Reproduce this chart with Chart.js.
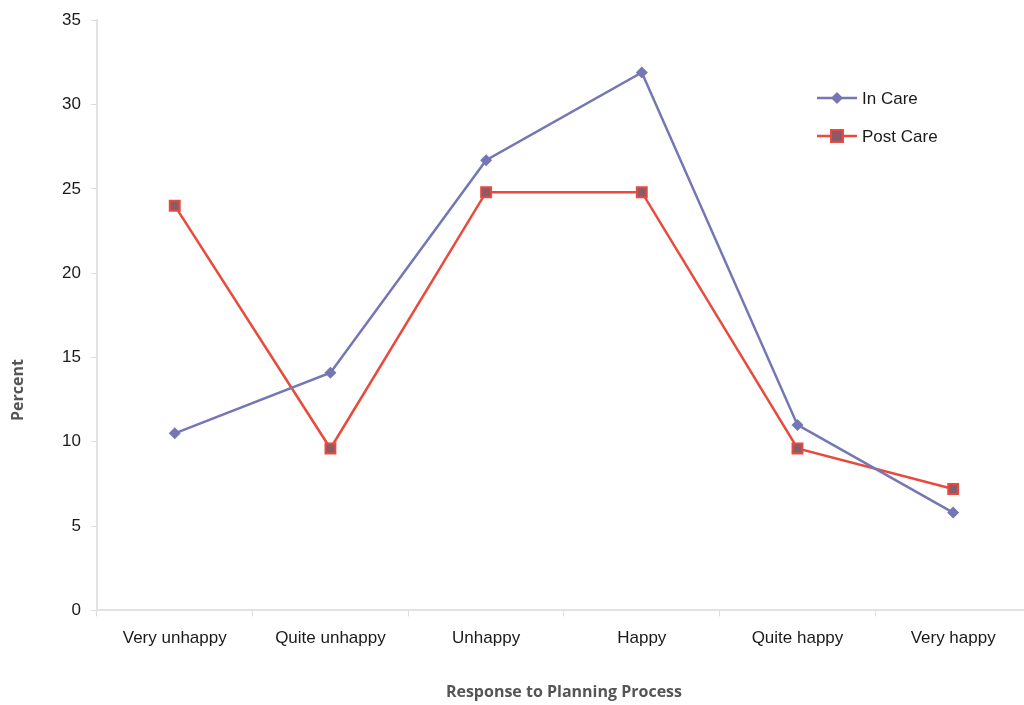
<!DOCTYPE html>
<html>
<head>
<meta charset="utf-8">
<script src="https://cdn.jsdelivr.net/npm/chart.js@4.4.0/dist/chart.umd.min.js"></script>
<style>
  html, body { margin: 0; padding: 0; background: #fff; overflow: hidden; }
  #wrap { width: 1040px; height: 705px; }
</style>
</head>
<body>
<div id="wrap"><canvas id="myChart" width="1040" height="705"></canvas></div>
<script>
const categories = ['Very unhappy', 'Quite unhappy', 'Unhappy', 'Happy', 'Quite happy', 'Very happy']
const inCare = [10.5, 14.1, 26.7, 31.9, 11.0, 5.8]
const postCare = [24.0, 9.6, 24.8, 24.8, 9.6, 7.2]
const yTicks = [0, 5, 10, 15, 20, 25, 30, 35]

const blue = '#7477b3'
const red = '#ea4a3c'
const labelFont = '"Liberation Sans", Arial, sans-serif'

// legend inside the plot (top right) and the y title, which sits lower than centre
const extras = {
  id: 'extras',
  afterDraw(chart) {
    const ctx = chart.ctx
    const items = [
      { label: 'In Care', color: blue, y: 98, shape: 'diamond' },
      { label: 'Post Care', color: red, y: 136, shape: 'square' }
    ]
    ctx.save()
    items.forEach(function (it) {
      ctx.strokeStyle = it.color
      ctx.lineWidth = 2.5
      ctx.beginPath()
      ctx.moveTo(817, it.y)
      ctx.lineTo(857, it.y)
      ctx.stroke()
      if (it.shape === 'diamond') {
        ctx.fillStyle = blue
        ctx.beginPath()
        ctx.moveTo(837, it.y - 6)
        ctx.lineTo(843, it.y)
        ctx.lineTo(837, it.y + 6)
        ctx.lineTo(831, it.y)
        ctx.closePath()
        ctx.fill()
      } else {
        ctx.fillStyle = '#8c5b69'
        ctx.lineWidth = 2
        ctx.fillRect(831, it.y - 6, 12, 12)
        ctx.strokeRect(831, it.y - 6, 12, 12)
      }
      ctx.fillStyle = '#1a1a1a'
      ctx.font = '17px ' + labelFont
      ctx.textBaseline = 'middle'
      ctx.fillText(it.label, 862, it.y + 1)
    })

    ctx.translate(18, 390)
    ctx.rotate(-Math.PI / 2)
    ctx.fillStyle = '#555'
    ctx.font = 'bold 16px "Open Sans", sans-serif'
    ctx.textAlign = 'center'
    ctx.textBaseline = 'middle'
    ctx.fillText('Percent', 0, 0)
    ctx.restore()
  }
}

const ctx = document.getElementById('myChart').getContext('2d')

const myChart = new Chart(ctx, {
  type: 'line',
  data: {
    labels: categories,
    datasets: [
      {
        label: 'In Care',
        data: inCare,
        borderColor: blue,
        backgroundColor: blue,
        borderWidth: 2.5,
        pointStyle: 'rectRot',
        pointRadius: 6,
        pointBorderWidth: 0,
        tension: 0
      },
      {
        label: 'Post Care',
        data: postCare,
        borderColor: red,
        backgroundColor: '#8c5b69',
        borderWidth: 2.5,
        pointStyle: 'rect',
        pointRadius: 7,
        pointBorderWidth: 2,
        pointBorderColor: red,
        tension: 0
      }
    ]
  },
  options: {
    responsive: false,
    animation: false,
    layout: { padding: { top: 20, right: 4, bottom: 0, left: 52 } },
    plugins: {
      legend: { display: false },
      tooltip: { enabled: false }
    },
    scales: {
      x: {
        offset: true,
        grid: {
          display: true,
          drawOnChartArea: false,
          offset: true,
          color: '#ddd',
          tickLength: 6
        },
        border: { color: '#e2e2e2', width: 2 },
        ticks: {
          color: '#1a1a1a',
          font: { family: labelFont, size: 17 },
          padding: 12,
          maxRotation: 0
        },
        title: {
          display: true,
          text: 'Response to Planning Process',
          color: '#555',
          font: { family: '"Open Sans", sans-serif', size: 16, weight: 'bold' },
          padding: { top: 22, bottom: 3 }
        }
      },
      y: {
        min: 0,
        max: 35,
        afterBuildTicks(axis) {
          axis.ticks = yTicks.map(function (v) { return { value: v } })
        },
        grid: {
          display: true,
          drawOnChartArea: false,
          color: '#ddd',
          tickLength: 6
        },
        border: { color: '#e2e2e2', width: 2 },
        ticks: {
          color: '#1a1a1a',
          font: { family: labelFont, size: 17 },
          padding: 10
        }
      }
    }
  },
  plugins: [extras]
})
</script>
</body>
</html>
